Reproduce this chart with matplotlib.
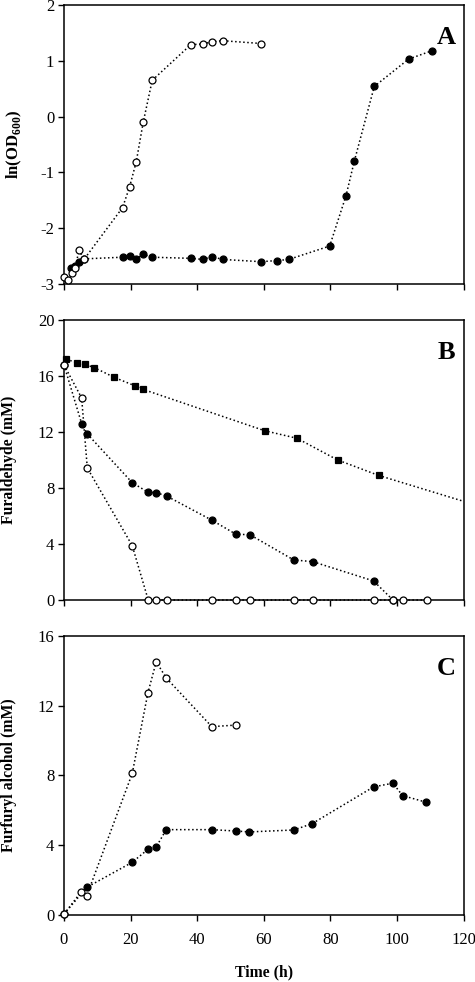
import matplotlib
matplotlib.use("Agg")
import matplotlib.pyplot as plt

plt.rcParams['font.family'] = ['Liberation Serif', 'DejaVu Serif']
plt.rcParams['mathtext.fontset'] = 'custom'
plt.rcParams['mathtext.rm'] = 'Liberation Serif'
plt.rcParams['mathtext.bf'] = 'Liberation Serif:bold'
plt.rcParams['axes.unicode_minus'] = False

# ---- Panel A: ln(OD600) ----
a_open_t = [0, 1.2, 2.3, 3.4, 4.5, 6.0, 17.6, 19.7, 21.7, 23.8, 26.5, 38.1, 41.7, 44.4, 47.7, 59.2]
a_open_v = [-2.88, -2.92, -2.81, -2.71, -2.39, -2.56, -1.63, -1.26, -0.81, -0.10, 0.65, 1.29, 1.30, 1.34, 1.36, 1.31]
a_fill_t = [2.0, 3.2, 4.4, 6.0, 17.6, 19.7, 21.7, 23.8, 26.5, 38.1, 41.7, 44.4, 47.7,
            59.2, 64.0, 67.5, 79.8, 84.7, 87.2, 93.2, 103.5, 110.5]
a_fill_v = [-2.72, -2.67, -2.60, -2.55, -2.52, -2.49, -2.55, -2.47, -2.52, -2.54, -2.56, -2.51, -2.56,
            -2.60, -2.58, -2.56, -2.32, -1.42, -0.80, 0.54, 1.03, 1.18]

# ---- Panel B: Furaldehyde (mM) ----
b_sq_t = [0.7, 4.0, 6.2, 9.1, 15.1, 21.4, 23.7, 60.3, 70.0, 82.2, 94.5]
b_sq_v = [17.19, 16.95, 16.83, 16.6, 15.9, 15.29, 15.05, 12.09, 11.55, 10.0, 8.9]
b_sq_trend_t = [94.5, 120]
b_sq_trend_v = [8.9, 7.05]
b_fill_t = [0, 5.3, 7.0, 20.5, 25.3, 27.7, 30.8, 44.5, 51.7, 55.8, 69.0, 74.7, 93.0, 98.8]
b_fill_v = [16.79, 12.6, 11.86, 8.38, 7.69, 7.67, 7.43, 5.69, 4.69, 4.67, 2.86, 2.74, 1.36, 0.0]
b_open_t = [0, 5.3, 7.0, 20.5, 25.3, 27.7, 30.8, 44.5, 51.7, 55.8, 69.0, 74.7, 93.0, 98.8, 101.8, 109.0]
b_open_v = [16.79, 14.43, 9.43, 3.88, 0, 0, 0, 0, 0, 0, 0, 0, 0, 0, 0, 0]

# ---- Panel C: Furfuryl alcohol (mM) ----
c_open_t = [0, 5.2, 6.8, 20.5, 25.2, 27.7, 30.7, 44.4, 51.7]
c_open_v = [0.05, 1.34, 1.09, 8.11, 12.72, 14.51, 13.58, 10.79, 10.88]
c_fill_t = [0, 6.8, 20.5, 25.2, 27.7, 30.7, 44.4, 51.7, 55.7, 69.0, 74.5, 93.0, 98.8, 101.7, 108.8]
c_fill_v = [0.05, 1.58, 3.02, 3.76, 3.90, 4.89, 4.89, 4.81, 4.76, 4.87, 5.23, 7.34, 7.55, 6.84, 6.46]

x_ticks = [0, 20, 40, 60, 80, 100, 120]

fig = plt.figure(figsize=(4.75, 9.82), dpi=100)
W, H = 475, 982
def rect(l, t, r, b):
    return [l / W, 1 - b / H, (r - l) / W, (b - t) / H]

axA = fig.add_axes(rect(64, 5, 463.5, 284))
axB = fig.add_axes(rect(64, 320, 463.5, 600))
axC = fig.add_axes(rect(64, 635.7, 463.5, 915))

ms = 5.0
line_kw = dict(color='black', linestyle=':', linewidth=1.1)
open_kw = dict(marker='o', markersize=ms, markerfacecolor='white', markeredgecolor='black', markeredgewidth=0.9)
fill_kw = dict(marker='o', markersize=ms, markerfacecolor='black', markeredgecolor='black', markeredgewidth=0.9)
sq_kw = dict(marker='s', markersize=ms - 0.5, markerfacecolor='black', markeredgecolor='black', markeredgewidth=0.9)

# A
axA.plot(a_fill_t, a_fill_v, **line_kw, **fill_kw, zorder=3)
axA.plot(a_open_t, a_open_v, **line_kw, **open_kw, zorder=4)
axA.set_ylim(-3, 2)
axA.set_yticks([-3, -2, -1, 0, 1, 2])
axA.set_ylabel('ln(OD$_{\\mathbf{600}}$)', fontsize=12, fontweight='bold')

# B
axB.plot(b_sq_trend_t, b_sq_trend_v, **line_kw, zorder=2)
axB.plot(b_sq_t, b_sq_v, **line_kw, **sq_kw, zorder=3)
axB.plot(b_fill_t, b_fill_v, **line_kw, **fill_kw, zorder=3)
axB.plot(b_open_t, b_open_v, **line_kw, **open_kw, zorder=4)
axB.set_ylim(0, 20)
axB.set_yticks([0, 4, 8, 12, 16, 20])
axB.set_ylabel('Furaldehyde (mM)', fontsize=11.3, fontweight='bold')

# C
axC.plot(c_fill_t, c_fill_v, **line_kw, **fill_kw, zorder=3)
axC.plot(c_open_t, c_open_v, **line_kw, **open_kw, zorder=4)
axC.set_ylim(0, 16)
axC.set_yticks([0, 4, 8, 12, 16])
axC.set_ylabel('Furfuryl alcohol (mM)', fontsize=11.3, fontweight='bold')
axC.set_xlabel('Time (h)', fontsize=11.3, fontweight='bold', labelpad=12)

for ax, letter in zip([axA, axB, axC], ['A', 'B', 'C']):
    ax.set_xlim(0, 120)
    ax.set_xticks(x_ticks)
    ax.tick_params(direction='out', length=4, width=1, labelsize=12, pad=3)
    for s in ax.spines.values():
        s.set_linewidth(1.1)
    ax.yaxis.set_label_coords(-0.118, 0.5)
    ax.text(0.98, 0.925, letter, transform=ax.transAxes, ha='right', va='top',
            fontsize=19, fontweight='bold')
    ax.patch.set_alpha(0)
    for ln in ax.lines:
        ln.set_clip_on(False)

axA.yaxis.set_label_coords(-0.1, 0.5)
axA.tick_params(labelbottom=False)
axB.tick_params(labelbottom=False)
axC.tick_params(axis='x', pad=8)

fig.savefig('out.png', dpi=100)
